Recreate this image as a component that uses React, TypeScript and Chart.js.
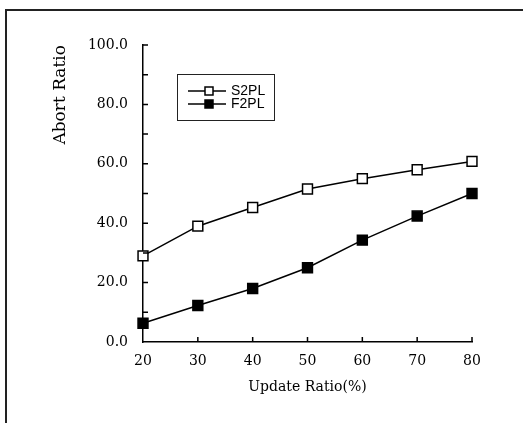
import { useEffect, useRef } from "react";
import { Chart, registerables } from "chart.js";

Chart.register(...registerables);

const updateRatios = [20, 30, 40, 50, 60, 70, 80];
const s2plAbort = [29, 39, 45.3, 51.5, 55, 58, 60.8];
const f2plAbort = [6.3, 12.3, 18, 25, 34.3, 42.4, 50];
const seriesNames = ["S2PL", "F2PL"];
const xTitle = "Update Ratio(%)";
const yTitle = "Abort Ratio";

const SERIF = "'DejaVu Serif', serif";
const LEGEND_FONT = "14px 'Liberation Sans Narrow', 'Liberation Sans', Arial, sans-serif";

const framePlugin = {
  id: "frame",
  beforeDraw(chart: any) {
    const ctx = chart.ctx;
    ctx.save();
    ctx.fillStyle = "#fff";
    ctx.fillRect(0, 0, chart.width, chart.height);
    ctx.strokeStyle = "#222";
    ctx.lineWidth = 2;
    ctx.beginPath();
    ctx.moveTo(6, chart.height);
    ctx.lineTo(6, 10);
    ctx.lineTo(chart.width, 10);
    ctx.stroke();
    ctx.restore();
  },
  afterDraw(chart: any) {
    const ctx = chart.ctx;
    const xs = chart.scales.x;
    const ys = chart.scales.y;
    ctx.save();
    ctx.strokeStyle = "#000";
    ctx.lineWidth = 1.5;
    ctx.beginPath();
    ys.ticks.forEach((t: any) => {
      if (t.value === ys.min) return;
      const py = ys.getPixelForValue(t.value);
      ctx.moveTo(xs.left, py);
      ctx.lineTo(xs.left + 5, py);
    });
    xs.ticks.forEach((t: any) => {
      if (t.value === xs.min) return;
      const px = xs.getPixelForValue(t.value);
      ctx.moveTo(px, ys.bottom);
      ctx.lineTo(px, ys.bottom - 5);
    });
    ctx.stroke();

    // legend box
    const bx = 177, by = 74, bw = 97, bh = 46;
    ctx.fillStyle = "#fff";
    ctx.fillRect(bx, by, bw, bh);
    ctx.lineWidth = 1;
    ctx.strokeStyle = "#222";
    ctx.strokeRect(bx + 0.5, by + 0.5, bw, bh);
    chart.data.datasets.forEach((ds: any, i: number) => {
      const ly = 91 + i * 13;
      ctx.strokeStyle = "#000";
      ctx.lineWidth = 1.5;
      ctx.beginPath();
      ctx.moveTo(188, ly);
      ctx.lineTo(226, ly);
      ctx.stroke();
      const s = 8;
      ctx.fillStyle = ds.pointBackgroundColor;
      ctx.fillRect(209 - s / 2, ly - s / 2, s, s);
      ctx.strokeRect(209 - s / 2, ly - s / 2, s, s);
      ctx.fillStyle = "#000";
      ctx.font = LEGEND_FONT;
      ctx.textBaseline = "middle";
      ctx.textAlign = "left";
      ctx.fillText(ds.label, 231, ly + 0.5);
    });
    ctx.restore();
  },
};

export default function App() {
  const ref = useRef<HTMLCanvasElement>(null);
  useEffect(() => {
    if (!ref.current) return;
    const mk = (vals: number[]) => updateRatios.map((x, i) => ({ x, y: vals[i] }));
    const common = {
      borderColor: "#000",
      borderWidth: 1.5,
      pointStyle: "rect",
      pointRadius: 7,
      pointBorderColor: "#000",
      pointBorderWidth: 1.5,
      tension: 0,
      clip: false,
    };
    const chart = new Chart(ref.current, {
      type: "line",
      data: {
        datasets: [
          { ...common, label: seriesNames[0], data: mk(s2plAbort), pointBackgroundColor: "#fff" },
          { ...common, label: seriesNames[1], data: mk(f2plAbort), pointBackgroundColor: "#000" },
        ] as any,
      },
      options: {
        responsive: false,
        animation: false,
        layout: { padding: { left: 0, right: 51, top: 45, bottom: 0 } },
        plugins: { legend: { display: false }, tooltip: { enabled: false } },
        scales: {
          x: {
            type: "linear",
            min: 20,
            max: 80,
            afterFit: (s: any) => { s.height = 81; },
            ticks: { stepSize: 10, color: "#000", padding: 11, font: { family: SERIF, size: 14 } },
            grid: { drawOnChartArea: false, drawTicks: false },
            border: { color: "#000", width: 1.5 },
            title: { display: true, text: xTitle, color: "#000", font: { family: SERIF, size: 14 }, padding: { top: 0, bottom: 27 } },
          },
          y: {
            type: "linear",
            min: 0,
            max: 100,
            afterFit: (s: any) => { s.width = 143; },
            ticks: {
              stepSize: 10,
              autoSkip: false,
              color: "#000",
              padding: 15,
              font: { family: SERIF, size: 14 },
              callback: (v: any) => (Number(v) % 20 === 0 ? Number(v).toFixed(1) : ""),
            },
            grid: { drawOnChartArea: false, drawTicks: false },
            border: { color: "#000", width: 1.5 },
            title: { display: true, text: yTitle, align: "end", color: "#000", font: { family: SERIF, size: 17 }, padding: { top: 50, bottom: 0 } },
          },
        },
      } as any,
      plugins: [framePlugin],
    });
    return () => chart.destroy();
  }, []);
  return (
    <div style={{ position: "fixed", left: 0, top: 0, width: 523, height: 423, background: "#fff" }}>
      <canvas ref={ref} width={523} height={423} style={{ display: "block" }} />
    </div>
  );
}
